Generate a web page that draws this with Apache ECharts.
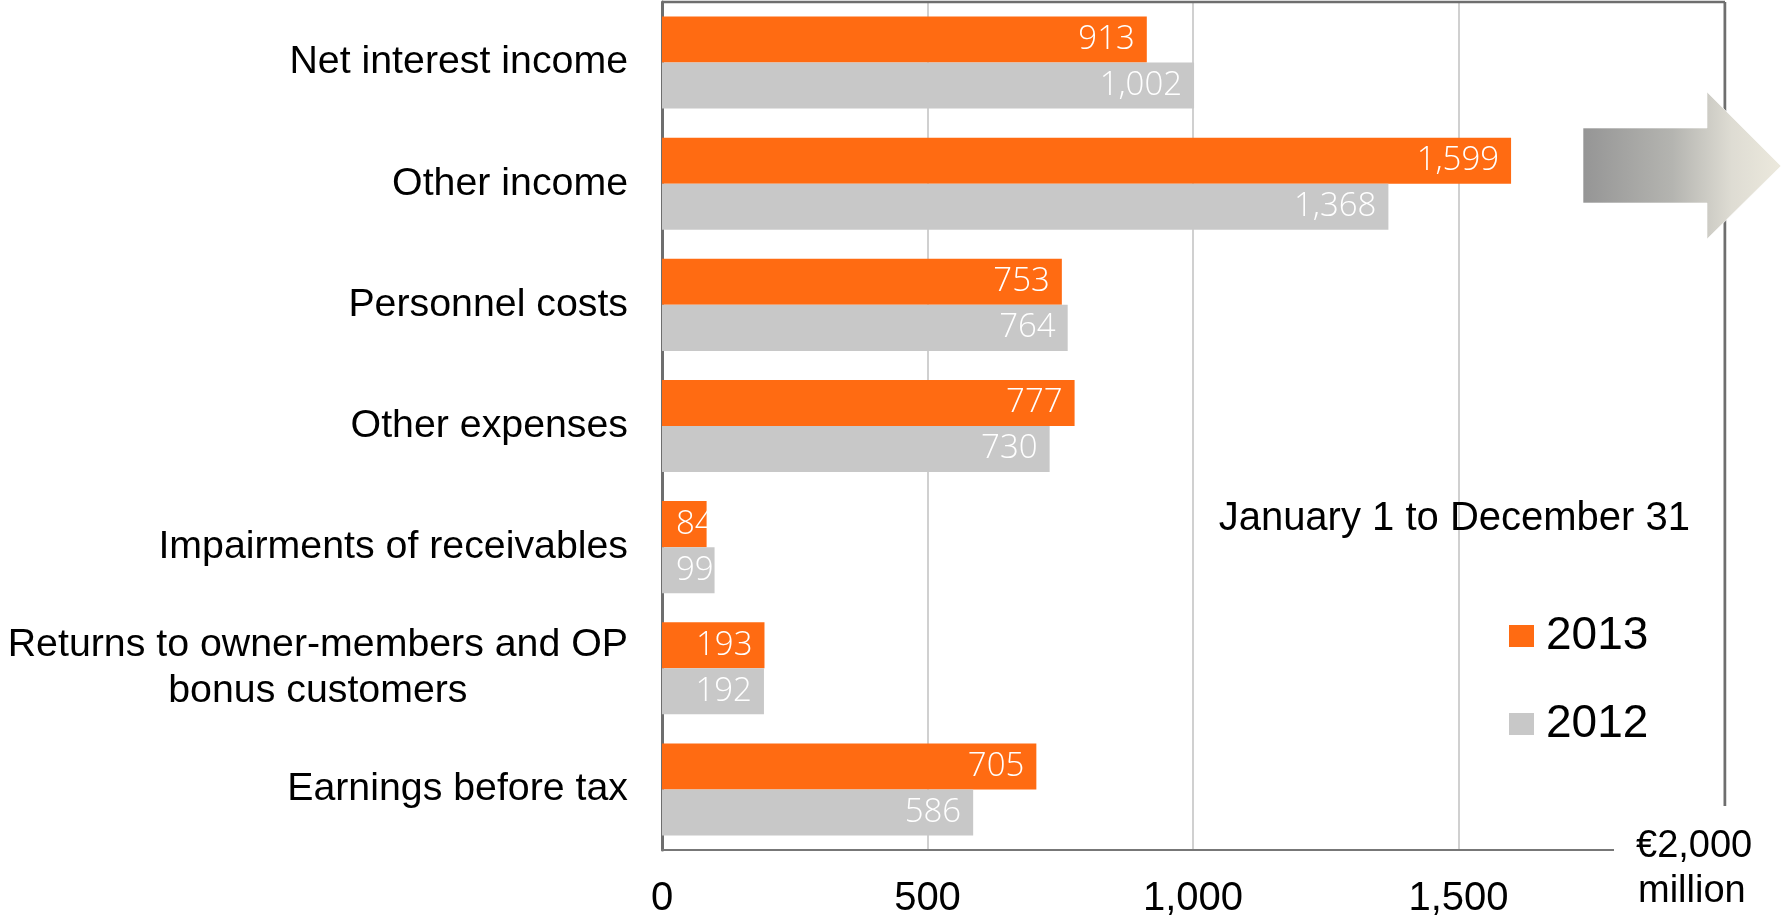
<!DOCTYPE html>
<html>
<head>
<meta charset="utf-8">
<title>Earnings before tax, January 1 to December 31</title>
<script src="https://cdn.jsdelivr.net/npm/echarts@6/dist/echarts.min.js"></script>
<style>
  html, body { margin: 0; padding: 0; background: #ffffff; }
  #chart { width: 1781px; height: 920px; }
</style>
</head>
<body>
<div id="chart"></div>
<script>
// Income statement items, € million
const categories = [
  'Net interest income',
  'Other income',
  'Personnel costs',
  'Other expenses',
  'Impairments of receivables',
  'Returns to owner-members and OP\nbonus customers',
  'Earnings before tax'
];
const seriesNames = ['2013', '2012'];
const values2013 = [913, 1599, 753, 777, 84, 193, 705];
const values2012 = [1002, 1368, 764, 730, 99, 192, 586];
const axisMin = 0;
const axisMax = 2000;
const axisStep = 500;
const unitLines = ['€2,000', 'million'];
const periodText = 'January 1 to December 31';

const ORANGE = '#FF6B12';
const GREY = '#C8C8C8';
const FRAME = '#6E6E6E';
const SANS = '"Liberation Sans", Arial, sans-serif';
const LABEL_FONT = '"Open Sans", "Noto Sans", sans-serif';
const CAT_SIZE = 39.3;

const GRID = { left: 662, top: 2, width: 1062, height: 848 };
const gridRight = GRID.left + GRID.width;
const gridBottom = GRID.top + GRID.height;

const fmt = v => Number(v).toLocaleString('en-US');

// Short bars get their value label from the bar start instead of the bar end
function barData(values) {
  return values.map(v => ({
    value: v,
    label: v < 150
      ? { position: 'insideLeft', distance: 14 }
      : { position: 'insideRight', distance: 12 }
  }));
}

function makeSeries(name, values, color, labelColor) {
  return {
    name: name,
    type: 'bar',
    data: barData(values),
    itemStyle: { color: color },
    barGap: '0%',
    barCategoryGap: '24%',
    label: {
      show: true,
      color: labelColor,
      fontFamily: LABEL_FONT,
      fontWeight: 300,
      fontSize: 33,
      formatter: p => fmt(p.value)
    },
    emphasis: { disabled: true }
  };
}

const chart = echarts.init(document.getElementById('chart'), null, { renderer: 'canvas' });

// Right-pointing arrow shape beside the top rows
const arrowPoints = [
  [1583, 128], [1707, 128], [1707, 92], [1781, 166],
  [1707, 239], [1707, 203], [1583, 203]
];

chart.setOption({
  backgroundColor: '#ffffff',
  animation: false,
  grid: {
    left: GRID.left, top: GRID.top, width: GRID.width, height: GRID.height,
    containLabel: false,
    outerBoundsMode: 'none'
  },
  legend: {
    data: seriesNames,
    orient: 'vertical',
    left: 1504,
    top: 606,
    itemWidth: 25,
    itemHeight: 22,
    itemGap: 38,
    icon: 'rect',
    selectedMode: false,
    textStyle: {
      fontFamily: SANS,
      fontSize: 46,
      lineHeight: 50,
      color: '#000000',
      padding: [0, 0, 0, 7]
    }
  },
  xAxis: {
    type: 'value',
    min: axisMin,
    max: axisMax,
    interval: axisStep,
    axisLine: { show: true, lineStyle: { color: '#777777', width: 2 } },
    axisTick: { show: false },
    splitLine: { show: true, lineStyle: { color: '#D0D0D0', width: 2 } },
    axisLabel: {
      margin: 29,
      fontFamily: SANS,
      fontSize: 40,
      color: '#000000',
      formatter: v => (v >= axisMax ? '' : fmt(v))
    }
  },
  yAxis: {
    type: 'category',
    data: categories,
    inverse: true,
    axisLine: { show: true, lineStyle: { color: FRAME, width: 3 } },
    axisTick: { show: false },
    splitLine: { show: false },
    axisLabel: {
      margin: 34,
      fontFamily: SANS,
      fontSize: CAT_SIZE,
      color: '#000000',
      formatter: v => (v.indexOf('\n') >= 0 ? '{c|' + v.split('\n').join('}\n{c|') + '}' : v),
      rich: {
        c: { align: 'center', fontFamily: SANS, fontSize: CAT_SIZE, lineHeight: 46, color: '#000000' }
      }
    }
  },
  series: [
    makeSeries(seriesNames[0], values2013, ORANGE, '#ffffff'),
    makeSeries(seriesNames[1], values2012, GREY, '#ffffff')
  ],
  graphic: [
    // plot frame: top and right edges
    {
      type: 'line', z: 50, silent: true,
      shape: { x1: GRID.left, y1: GRID.top, x2: gridRight + 1, y2: GRID.top },
      style: { stroke: FRAME, lineWidth: 2.5 }
    },
    {
      type: 'line', z: 50, silent: true,
      shape: { x1: gridRight + 1, y1: GRID.top, x2: gridRight + 1, y2: gridBottom },
      style: { stroke: FRAME, lineWidth: 2.5 }
    },
    // unit box in the lower right corner
    {
      type: 'rect', z: 100, silent: true,
      shape: { x: 1614, y: 806, width: 167, height: 114 },
      style: { fill: '#ffffff' }
    },
    {
      type: 'text', z: 101, silent: true,
      x: 1636, y: 847,
      style: {
        text: unitLines[0], fill: '#000000', font: '38px ' + SANS,
        textAlign: 'left', textVerticalAlign: 'middle'
      }
    },
    {
      type: 'text', z: 101, silent: true,
      x: 1638, y: 892,
      style: {
        text: unitLines[1], fill: '#000000', font: '38px ' + SANS,
        textAlign: 'left', textVerticalAlign: 'middle'
      }
    },
    // period caption
    {
      type: 'text', z: 60, silent: true,
      x: 1690, y: 519,
      style: {
        text: periodText, fill: '#000000', font: '40px ' + SANS,
        textAlign: 'right', textVerticalAlign: 'middle'
      }
    },
    // arrow
    {
      type: 'polygon', z: 110, silent: true,
      shape: { points: arrowPoints },
      style: {
        fill: new echarts.graphic.LinearGradient(0, 0, 1, 0, [
          { offset: 0, color: '#959595' },
          { offset: 0.45, color: '#B4B4B0' },
          { offset: 0.75, color: '#DEDCD3' },
          { offset: 1, color: '#ECE9DD' }
        ]),
        stroke: 'rgba(255,255,255,0.6)',
        lineWidth: 1
      }
    }
  ]
});
</script>
</body>
</html>
